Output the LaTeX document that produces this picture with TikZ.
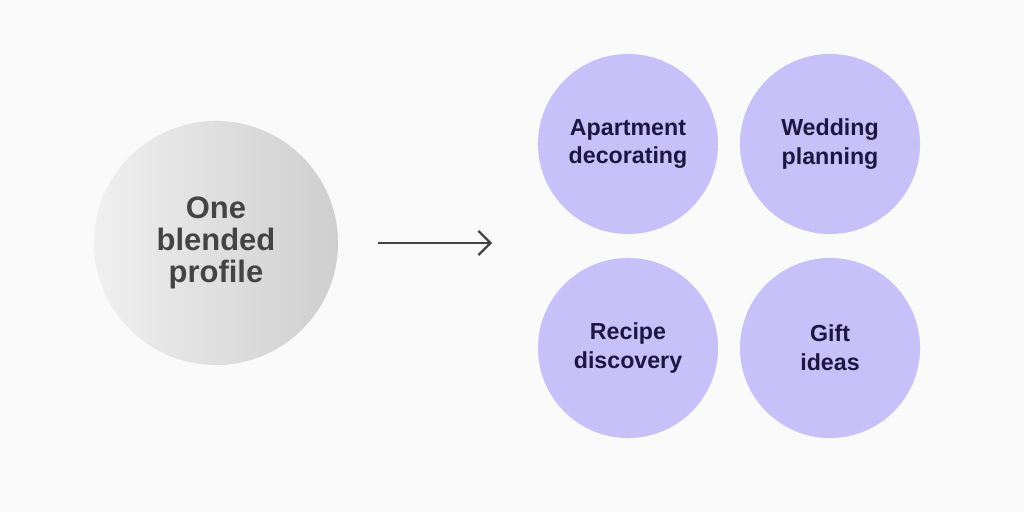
\documentclass[tikz,border=0pt]{standalone}
\usepackage{fontspec}
\setmainfont{Liberation Sans}
\usetikzlibrary{positioning,arrows.meta}
\definecolor{bgcol}{HTML}{FAFAFA}
\definecolor{lilac}{HTML}{C7C0F9}
\definecolor{navy}{HTML}{1E1640}
\definecolor{ink}{HTML}{444444}
\tikzset{
  topic/.style={circle,fill=lilac,minimum size=4.5cm,inner sep=0pt,align=center,
    text=navy,font=\fontsize{16.5}{20.5}\selectfont\bfseries},
}
\begin{document}
\begin{tikzpicture}[x=0.025cm,y=-0.025cm]
  \fill[bgcol] (0,0) rectangle (1024,512);
  \node[circle,minimum size=6.1cm,inner sep=0pt,left color=gray!12,right color=gray!38,
    align=center,text=ink,font=\fontsize{22}{22.7}\selectfont\bfseries] (blend) at (216,243)
    {One\\blended\\profile};
  \coordinate (tail) at (378,243);
  \coordinate (head) at (492,243);
  \draw[-{Straight Barb[length=3mm,width=6mm]},line width=1.6pt,ink] (tail) -- (head);
  \node[topic] (apt) at (628,144) {Apartment\\decorating};
  \node[topic] (wed) at (830,144) {Wedding\\planning};
  \node[topic] (rec) at (628,348) {Recipe\\discovery};
  \node[topic] (gift) at (830,348) {Gift\\ideas};
\end{tikzpicture}
\end{document}
